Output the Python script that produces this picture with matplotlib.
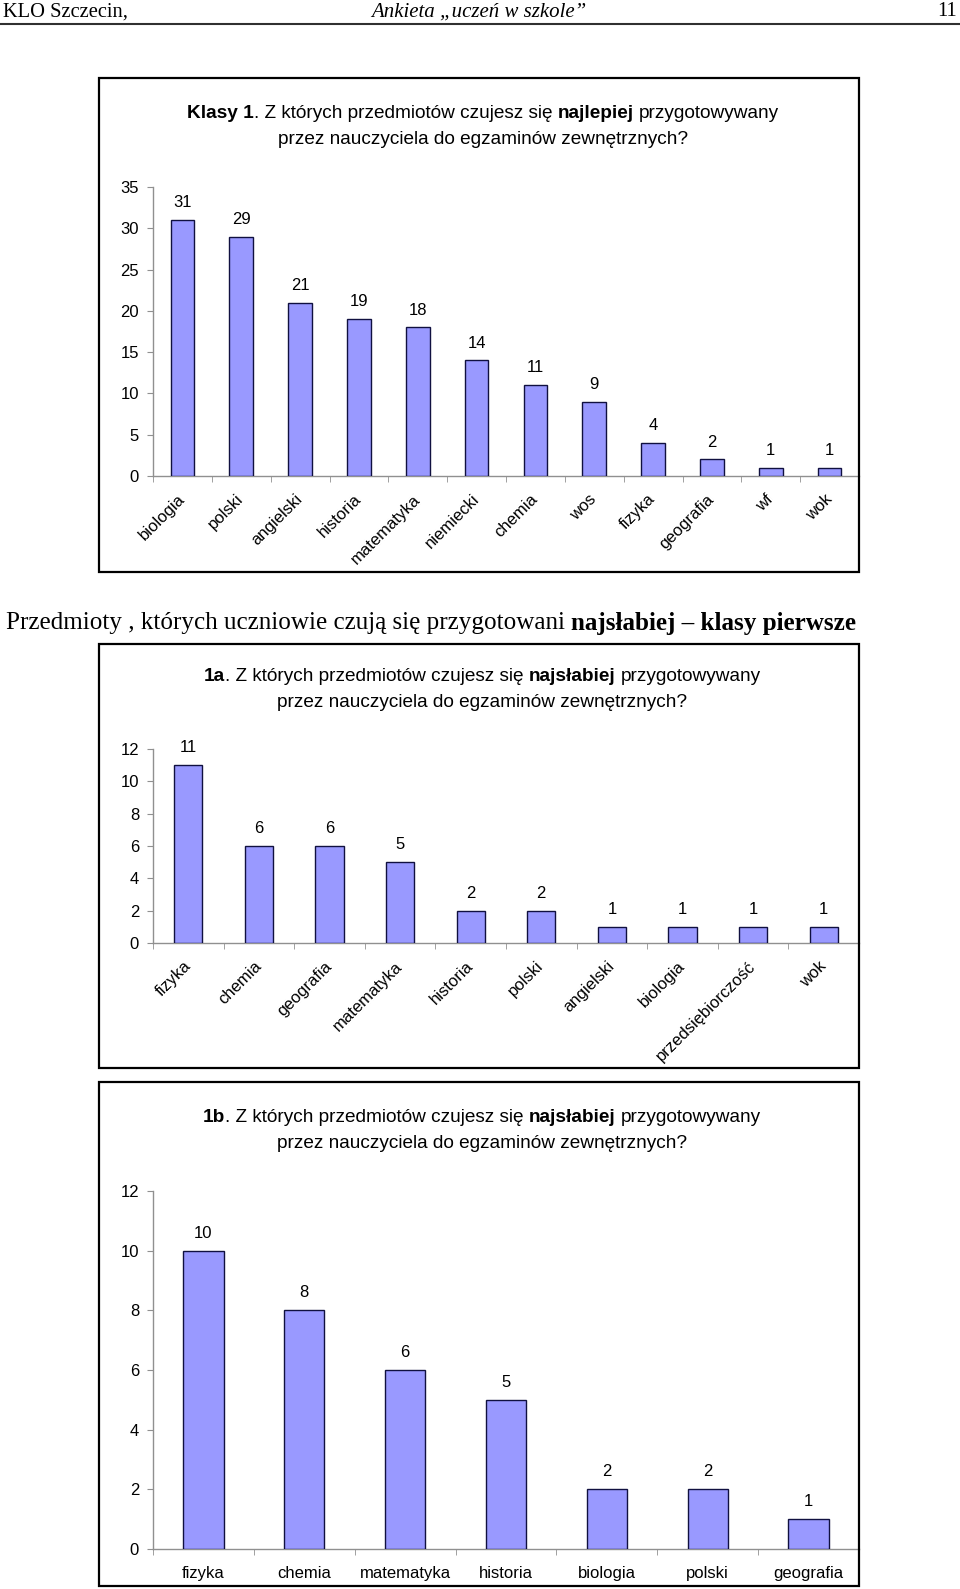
import matplotlib
matplotlib.use("Agg")
import matplotlib.pyplot as plt
from matplotlib.patches import Rectangle
from matplotlib.lines import Line2D

# chart 1 - najlepiej
subj1 = ['biologia', 'polski', 'angielski', 'historia', 'matematyka', 'niemiecki',
         'chemia', 'wos', 'fizyka', 'geografia', 'wf', 'wok']
vals1 = [31, 29, 21, 19, 18, 14, 11, 9, 4, 2, 1, 1]
ticks1 = [0, 5, 10, 15, 20, 25, 30, 35]

# chart 1a - najslabiej
subj2 = ['fizyka', 'chemia', 'geografia', 'matematyka', 'historia', 'polski',
         'angielski', 'biologia', 'przedsiębiorczość', 'wok']
vals2 = [11, 6, 6, 5, 2, 2, 1, 1, 1, 1]
ticks2 = [0, 2, 4, 6, 8, 10, 12]

# chart 1b - najslabiej
subj3 = ['fizyka', 'chemia', 'matematyka', 'historia', 'biologia', 'polski', 'geografia']
vals3 = [10, 8, 6, 5, 2, 2, 1]
ticks3 = [0, 2, 4, 6, 8, 10, 12]

W, H = 960, 1589
BAR = '#9999ff'
AXC = '#909090'
SANS = 'Liberation Sans'
SERIF = 'Liberation Serif'
FS = 12        # tick / data label size
TFS = 13.7     # chart title size

fig = plt.figure(figsize=(W / 100, H / 100), dpi=100)
renderer = fig.canvas.get_renderer()


def fx(x):
    return x / W


def fy(y):
    return 1 - y / H


def rich_line(xc, y, parts, size, family, style='normal'):
    # parts: list of (text, bold, space_before); spaces measured separately
    sp_a = fig.text(0, 0, 'a a', fontsize=size, family=family, style=style)
    sp_b = fig.text(0, 0, 'aa', fontsize=size, family=family, style=style)
    space = sp_a.get_window_extent(renderer).width - sp_b.get_window_extent(renderer).width
    sp_a.remove()
    sp_b.remove()
    items = []
    for s, bold, gap in parts:
        t = fig.text(0, fy(y), s, fontsize=size, family=family, style=style,
                     weight='bold' if bold else 'normal', va='center', ha='left')
        items.append((t, t.get_window_extent(renderer).width, gap))
    total = sum(w + (space if g else 0) for _, w, g in items)
    x = xc - total / 2
    for t, w, g in items:
        if g:
            x += space
        t.set_x(fx(x))
        x += w


def box(x0, y0, x1, y1):
    fig.patches.append(Rectangle((fx(x0), fy(y1)), (x1 - x0) / W, (y1 - y0) / H,
                                 transform=fig.transFigure, fill=False,
                                 edgecolor='black', linewidth=1.6))


def bar_chart(left, right, top, bottom, subj, vals, ticks, rotate):
    ax = fig.add_axes([fx(left), fy(bottom), (right - left) / W, (bottom - top) / H])
    n = len(subj)
    x = list(range(n))
    ax.bar(x, vals, width=0.4, color=BAR, edgecolor='#101040', linewidth=1.0, zorder=3)
    for xi, v in zip(x, vals):
        ax.annotate(str(v), (xi, v), xytext=(0, 12.5), textcoords='offset points',
                    ha='center', va='center', fontsize=FS, family=SANS)
    ax.set_xlim(-0.5, n - 0.5)
    ax.set_ylim(ticks[0], ticks[-1])
    ax.set_yticks(ticks)
    ax.set_yticklabels([str(t) for t in ticks], fontsize=FS, family=SANS)
    ax.set_xticks(x)
    if rotate:
        ax.set_xticklabels(subj, fontsize=FS, family=SANS, rotation=45,
                           ha='right', va='center', rotation_mode='anchor')
        ax.tick_params(axis='x', which='major', length=0, pad=15)
    else:
        ax.set_xticklabels(subj, fontsize=FS, family=SANS)
        ax.tick_params(axis='x', which='major', length=0, pad=12)
    ax.set_xticks([i + 0.5 for i in range(-1, n)], minor=True)
    ax.tick_params(axis='x', which='minor', length=4, color=AXC, direction='out')
    ax.tick_params(axis='y', length=4, color=AXC, direction='out', pad=6)
    for s in ['top', 'right']:
        ax.spines[s].set_visible(False)
    for s in ['left', 'bottom']:
        ax.spines[s].set_color(AXC)
        ax.spines[s].set_linewidth(1.0)
    ax.patch.set_alpha(0)
    return ax


# page header
fig.text(fx(3), fy(12), 'KLO Szczecin,', fontsize=14.8, family=SERIF, va='center')
fig.text(fx(479), fy(12), 'Ankieta \u201euczeń w szkole\u201d', fontsize=15, family=SERIF,
         style='italic', va='center', ha='center')
fig.text(fx(957), fy(12), '11', fontsize=14.8, family=SERIF, va='center', ha='right')
fig.lines.append(Line2D([0, 1], [fy(24), fy(24)], transform=fig.transFigure,
                        color='#303030', linewidth=1.5))

# chart 1
box(99, 78, 859, 572)
rich_line(483, 113.5, [('Klasy 1', True, False),
                       ('. Z których przedmiotów czujesz się', False, False),
                       ('najlepiej', True, True),
                       ('przygotowywany', False, True)], TFS, SANS)
rich_line(483, 140, [('przez nauczyciela do egzaminów zewnętrznych?', False, False)], TFS, SANS)
bar_chart(153, 859, 187, 476, subj1, vals1, ticks1, True)

# section heading
rich_line(431, 623.5, [('Przedmioty , których uczniowie czują się przygotowani', False, False),
                       ('najsłabiej \u2013 klasy pierwsze', True, True)], 18.1, SERIF)

# chart 1a
box(99, 644, 859, 1068)
rich_line(482, 676, [('1a', True, False),
                     ('. Z których przedmiotów czujesz się', False, False),
                     ('najsłabiej', True, True),
                     ('przygotowywany', False, True)], TFS, SANS)
rich_line(482, 702.5, [('przez nauczyciela do egzaminów zewnętrznych?', False, False)], TFS, SANS)
bar_chart(153, 859, 749, 943, subj2, vals2, ticks2, True)

# chart 1b
box(99, 1082, 859, 1586)
rich_line(482, 1117, [('1b', True, False),
                      ('. Z których przedmiotów czujesz się', False, False),
                      ('najsłabiej', True, True),
                      ('przygotowywany', False, True)], TFS, SANS)
rich_line(482, 1143.5, [('przez nauczyciela do egzaminów zewnętrznych?', False, False)], TFS, SANS)
bar_chart(153, 859, 1191, 1549, subj3, vals3, ticks3, False)

fig.savefig('out.png', dpi=100)
